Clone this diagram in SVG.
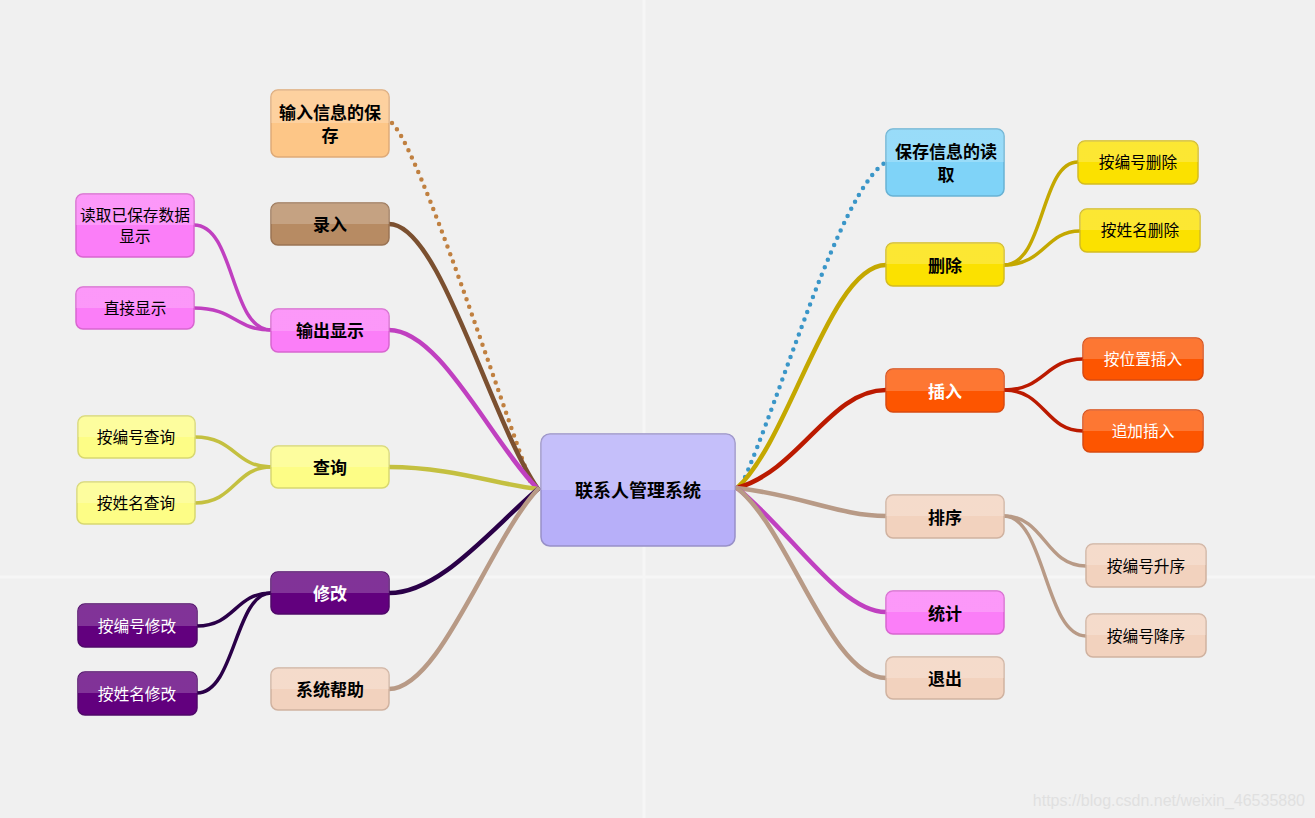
<svg xmlns="http://www.w3.org/2000/svg" width="1315" height="818" viewBox="0 0 1315 818">
<defs>
<linearGradient id="gloss" x1="0" y1="0" x2="0" y2="1">
<stop offset="0" stop-color="#fff" stop-opacity="0.2"/>
<stop offset="0.5" stop-color="#fff" stop-opacity="0.2"/>
<stop offset="0.5" stop-color="#fff" stop-opacity="0"/>
<stop offset="1" stop-color="#fff" stop-opacity="0"/>
</linearGradient>
</defs>
<style>
.t{font-family:"Noto Sans CJK SC","Noto Sans",sans-serif;text-anchor:middle;dominant-baseline:central;fill:#000}
.b{font-weight:bold;font-size:17px}
.r{font-size:15.7px}
.c{font-weight:bold;font-size:18px}
.w{fill:#fff}
.g{fill:url(#gloss);stroke:none}
.peach{fill:#f2d2be;stroke:#d0b2a0}
.pink{fill:#fb7ef8;stroke:#d866d0}
.ly{fill:#fdfd86;stroke:#d8d870}
.by{fill:#fbe100;stroke:#d4bc20}
.or{fill:#fd5500;stroke:#d84a10}
.pu{fill:#62007e;stroke:#50086a}
.br{fill:#b78b63;stroke:#9a7454}
.lo{fill:#fdc687;stroke:#deaa78}
.bl{fill:#7fd3f8;stroke:#68b2d4}
.la{fill:#b7aff9;stroke:#9890c8}
rect{stroke-width:1.5}
#connectors path{fill:none;stroke-linecap:round}
.m{stroke-width:4.5}
.s{stroke-width:3.5}
.dot{stroke-width:4.5;stroke-dasharray:0 8}
</style>
<rect width="1315" height="818" fill="#f0f0f0"/>
<line x1="644" y1="0" x2="644" y2="818" stroke="#f6f6f6" stroke-width="3"/>
<line x1="0" y1="577" x2="1315" y2="577" stroke="#f6f6f6" stroke-width="3"/>
<g id="connectors">
<path class="dot" stroke="#c08040" d="M392,123 C420,150 500,400 532,486"/>
<path class="m" stroke="#7b5030" d="M389,224 C440,224 490,420 538,489"/>
<path class="m" stroke="#c040c0" d="M389,330 C440,330 490,440 538,489"/>
<path class="m" stroke="#c4c040" d="M389,467 C450,467 500,485 538,489"/>
<path class="m" stroke="#2a0048" d="M389,593 C440,593 490,530 538,489"/>
<path class="m" stroke="#b89a86" d="M389,689 C440,689 490,540 538,489"/>
<path class="dot" stroke="#3a96c8" d="M742,484 C780,400 840,190 886,162"/>
<path class="m" stroke="#c4a800" d="M737,488 C790,440 830,265 886,265"/>
<path class="m" stroke="#bb1a00" d="M737,488 C800,470 830,390 886,390"/>
<path class="m" stroke="#b89a86" d="M737,488 C800,495 840,516 886,516"/>
<path class="m" stroke="#c040c0" d="M737,488 C790,530 840,612 886,612"/>
<path class="m" stroke="#b89a86" d="M737,488 C790,530 830,678 886,678"/>
<path class="s" stroke="#c040c0" d="M194,225 C235,225 230,330 271,330"/>
<path class="s" stroke="#c040c0" d="M194,308 C235,308 235,330 271,330"/>
<path class="s" stroke="#c4c040" d="M195,437 C235,437 235,467 271,467"/>
<path class="s" stroke="#c4c040" d="M195,503 C235,503 235,467 271,467"/>
<path class="s" stroke="#2a0048" d="M197,626 C235,626 235,593 271,593"/>
<path class="s" stroke="#2a0048" d="M197,693 C235,693 235,593 271,593"/>
<path class="s" stroke="#c4a800" d="M1004,265 C1045,265 1040,162 1078,162"/>
<path class="s" stroke="#c4a800" d="M1004,265 C1045,265 1045,231 1080,231"/>
<path class="s" stroke="#bb1a00" d="M1004,390 C1045,390 1045,359 1083,359"/>
<path class="s" stroke="#bb1a00" d="M1004,390 C1045,390 1045,431 1083,431"/>
<path class="s" stroke="#b89a86" d="M1004,516 C1045,516 1045,566 1086,566"/>
<path class="s" stroke="#b89a86" d="M1004,516 C1045,516 1045,636 1086,636"/>
</g>
<g id="center"><rect class="la" x="541" y="434" width="194" height="112" rx="9"/><rect class="g" x="541" y="434" width="194" height="112" rx="9"/><text class="t c" x="638" y="489">联系人管理系统</text></g>
<g id="n-save"><rect class="lo" x="271" y="90" width="118" height="67" rx="7"/><rect class="g" x="271" y="90" width="118" height="67" rx="7"/><text class="t b" x="330" y="111">输入信息的保</text><text class="t b" x="330" y="134">存</text></g>
<g id="n-input"><rect class="br" x="271" y="203" width="118" height="42" rx="7"/><rect class="g" x="271" y="203" width="118" height="42" rx="7"/><text class="t b" x="330" y="223">录入</text></g>
<g id="n-output"><rect class="pink" x="271" y="309" width="118" height="43" rx="7"/><rect class="g" x="271" y="309" width="118" height="43" rx="7"/><text class="t b" x="330" y="329">输出显示</text></g>
<g id="n-query"><rect class="ly" x="271" y="446" width="118" height="42" rx="7"/><rect class="g" x="271" y="446" width="118" height="42" rx="7"/><text class="t b" x="330" y="466">查询</text></g>
<g id="n-modify"><rect class="pu" x="271" y="572" width="118" height="42" rx="7"/><rect class="g" x="271" y="572" width="118" height="42" rx="7"/><text class="t b w" x="330" y="592">修改</text></g>
<g id="n-help"><rect class="peach" x="271" y="668" width="118" height="42" rx="7"/><rect class="g" x="271" y="668" width="118" height="42" rx="7"/><text class="t b" x="330" y="688">系统帮助</text></g>
<g id="n-readshow"><rect class="pink" x="76" y="194" width="118" height="63" rx="7"/><rect class="g" x="76" y="194" width="118" height="63" rx="7"/><text class="t r" x="135" y="214">读取已保存数据</text><text class="t r" x="135" y="235">显示</text></g>
<g id="n-direct"><rect class="pink" x="76" y="287" width="118" height="42" rx="7"/><rect class="g" x="76" y="287" width="118" height="42" rx="7"/><text class="t r" x="135" y="307">直接显示</text></g>
<g id="n-qnum"><rect class="ly" x="78" y="416" width="117" height="42" rx="7"/><rect class="g" x="78" y="416" width="117" height="42" rx="7"/><text class="t r" x="136" y="436">按编号查询</text></g>
<g id="n-qname"><rect class="ly" x="77" y="482" width="118" height="42" rx="7"/><rect class="g" x="77" y="482" width="118" height="42" rx="7"/><text class="t r" x="136" y="502">按姓名查询</text></g>
<g id="n-mnum"><rect class="pu" x="78" y="604" width="119" height="43" rx="7"/><rect class="g" x="78" y="604" width="119" height="43" rx="7"/><text class="t r w" x="137" y="625">按编号修改</text></g>
<g id="n-mname"><rect class="pu" x="78" y="672" width="119" height="43" rx="7"/><rect class="g" x="78" y="672" width="119" height="43" rx="7"/><text class="t r w" x="137" y="693">按姓名修改</text></g>
<g id="n-load"><rect class="bl" x="886" y="129" width="118" height="67" rx="7"/><rect class="g" x="886" y="129" width="118" height="67" rx="7"/><text class="t b" x="946" y="150">保存信息的读</text><text class="t b" x="946" y="173">取</text></g>
<g id="n-delete"><rect class="by" x="886" y="243" width="118" height="43" rx="7"/><rect class="g" x="886" y="243" width="118" height="43" rx="7"/><text class="t b" x="945" y="264">删除</text></g>
<g id="n-insert"><rect class="or" x="886" y="369" width="118" height="43" rx="7"/><rect class="g" x="886" y="369" width="118" height="43" rx="7"/><text class="t b w" x="945" y="390">插入</text></g>
<g id="n-sort"><rect class="peach" x="886" y="495" width="118" height="43" rx="7"/><rect class="g" x="886" y="495" width="118" height="43" rx="7"/><text class="t b" x="945" y="516">排序</text></g>
<g id="n-stat"><rect class="pink" x="886" y="591" width="118" height="43" rx="7"/><rect class="g" x="886" y="591" width="118" height="43" rx="7"/><text class="t b" x="945" y="612">统计</text></g>
<g id="n-exit"><rect class="peach" x="886" y="657" width="118" height="42" rx="7"/><rect class="g" x="886" y="657" width="118" height="42" rx="7"/><text class="t b" x="945" y="677">退出</text></g>
<g id="n-dnum"><rect class="by" x="1078" y="141" width="120" height="43" rx="7"/><rect class="g" x="1078" y="141" width="120" height="43" rx="7"/><text class="t r" x="1138" y="161">按编号删除</text></g>
<g id="n-dname"><rect class="by" x="1080" y="209" width="120" height="43" rx="7"/><rect class="g" x="1080" y="209" width="120" height="43" rx="7"/><text class="t r" x="1140" y="229">按姓名删除</text></g>
<g id="n-ipos"><rect class="or" x="1083" y="338" width="120" height="42" rx="7"/><rect class="g" x="1083" y="338" width="120" height="42" rx="7"/><text class="t r w" x="1143" y="358">按位置插入</text></g>
<g id="n-iapp"><rect class="or" x="1083" y="410" width="120" height="42" rx="7"/><rect class="g" x="1083" y="410" width="120" height="42" rx="7"/><text class="t r w" x="1143" y="430">追加插入</text></g>
<g id="n-asc"><rect class="peach" x="1086" y="544" width="120" height="43" rx="7"/><rect class="g" x="1086" y="544" width="120" height="43" rx="7"/><text class="t r" x="1146" y="565">按编号升序</text></g>
<g id="n-desc"><rect class="peach" x="1086" y="614" width="120" height="43" rx="7"/><rect class="g" x="1086" y="614" width="120" height="43" rx="7"/><text class="t r" x="1146" y="635">按编号降序</text></g>
<text x="1305" y="806" text-anchor="end" font-family="Liberation Sans, Arial, sans-serif" font-size="16" fill="#e0e0e0">https://blog.csdn.net/weixin_46535880</text>
</svg>
